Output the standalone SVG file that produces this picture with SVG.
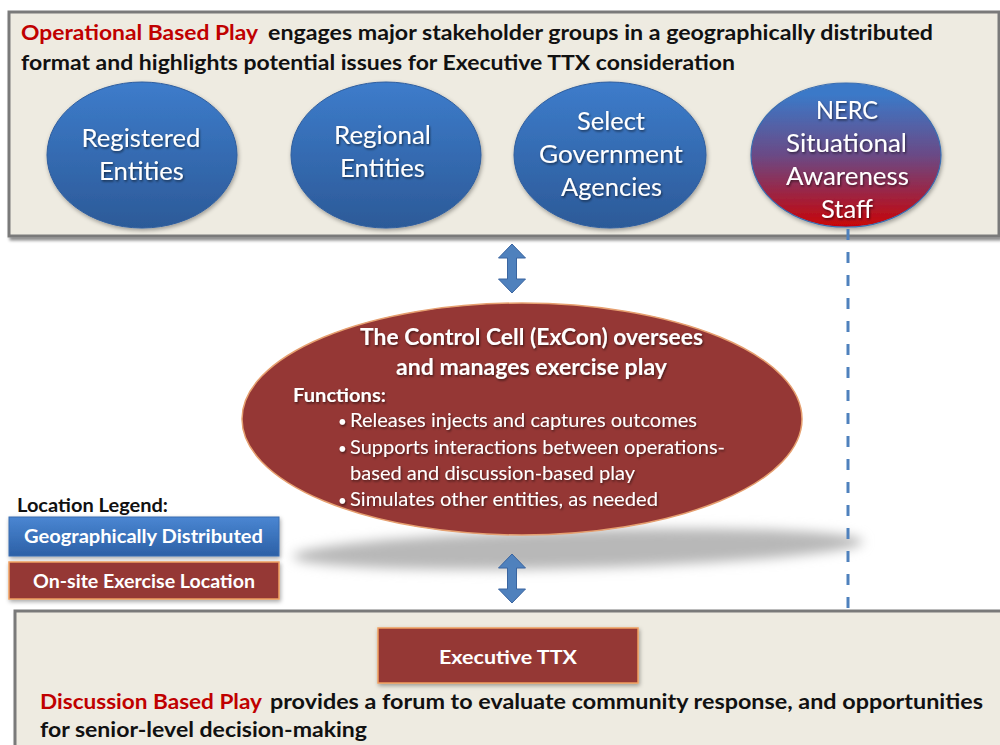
<svg xmlns="http://www.w3.org/2000/svg" width="1000" height="745" viewBox="0 0 1000 745">
<defs>
  <linearGradient id="gBlue" x1="0" y1="0" x2="0" y2="1">
    <stop offset="0" stop-color="#3D7CCB"/>
    <stop offset="1" stop-color="#2C5A98"/>
  </linearGradient>
  <linearGradient id="gNerc" x1="0" y1="0" x2="0" y2="1">
    <stop offset="0.08" stop-color="#3B79C8"/>
    <stop offset="0.5" stop-color="#6A4A86"/>
    <stop offset="1" stop-color="#C80408"/>
  </linearGradient>
  <linearGradient id="gLegBlue" x1="0" y1="0" x2="0" y2="1">
    <stop offset="0" stop-color="#4A86D2"/>
    <stop offset="1" stop-color="#2C60A6"/>
  </linearGradient>
  <filter id="boxShadow" x="-5%" y="-5%" width="110%" height="115%">
    <feDropShadow dx="2" dy="3" stdDeviation="1.5" flood-color="#000" flood-opacity="0.45"/>
  </filter>
  <filter id="softShadow" x="-10%" y="-10%" width="120%" height="130%">
    <feDropShadow dx="1" dy="2" stdDeviation="2" flood-color="#000" flood-opacity="0.35"/>
  </filter>
  <filter id="textShadow" x="-5%" y="-20%" width="110%" height="150%">
    <feDropShadow dx="1" dy="1.5" stdDeviation="0.8" flood-color="#000" flood-opacity="0.55"/>
  </filter>
  <filter id="blur" x="-20%" y="-100%" width="140%" height="300%">
    <feGaussianBlur stdDeviation="6"/>
  </filter>
  <style>
    .panel { fill: #EEEBE1; stroke: #7A7A7A; stroke-width: 3; }
    .hdr { font-family: "Lato", "Liberation Sans", sans-serif; font-weight: bold; font-size: 21px; fill: #111; }
    .red { fill: #C00000; }
    .ell { font-family: "Lato", "Liberation Sans", sans-serif; font-size: 25px; fill: #FFFFFF; text-anchor: middle; }
    .exc { font-family: "Lato", "Liberation Sans", sans-serif; fill: #FFFFFF; }
    .b { font-weight: bold; }
    .leg { font-family: "Lato", "Liberation Sans", sans-serif; font-weight: bold; font-size: 18px; }
    .wt { fill: #FFFFFF; }
    .arrow { fill: #4F81BD; stroke: #3A65A0; stroke-width: 1; }
    .dash { stroke: #4F81BD; stroke-width: 3; stroke-dasharray: 11 12; fill: none; }
  </style>
</defs>

<rect x="0" y="0" width="1000" height="745" fill="#FFFFFF"/>

<!-- Operational based play panel -->
<g id="operational-panel">
  <rect class="panel" x="9" y="12" width="990" height="224" filter="url(#boxShadow)"/>
  <text class="hdr red" x="21" y="40" textLength="237" lengthAdjust="spacingAndGlyphs">Operational Based Play</text>
  <text class="hdr" x="268" y="40" textLength="665" lengthAdjust="spacingAndGlyphs">engages major stakeholder groups in a geographically distributed</text>
  <text class="hdr" x="21" y="70" textLength="714" lengthAdjust="spacingAndGlyphs">format and highlights potential issues for Executive TTX consideration</text>
</g>

<!-- Discussion based play panel -->
<g id="discussion-panel">
  <rect class="panel" x="15" y="611" width="995" height="150" filter="url(#boxShadow)"/>
  <text class="hdr red" x="40" y="709" textLength="222" lengthAdjust="spacingAndGlyphs">Discussion Based Play</text>
  <text class="hdr" x="270" y="709" textLength="713" lengthAdjust="spacingAndGlyphs">provides a forum to evaluate community response, and opportunities</text>
  <text class="hdr" x="40" y="737" textLength="327" lengthAdjust="spacingAndGlyphs">for senior-level decision-making</text>
</g>

<!-- Stakeholder ellipses -->
<g id="registered-entities">
  <ellipse cx="142" cy="155" rx="95" ry="73" fill="url(#gBlue)" stroke="#2F5E9E" stroke-width="1" filter="url(#softShadow)"/>
  <g filter="url(#textShadow)">
    <text class="ell" x="141" y="147" textLength="119" lengthAdjust="spacingAndGlyphs">Registered</text>
    <text class="ell" x="141.5" y="180" textLength="85" lengthAdjust="spacingAndGlyphs">Entities</text>
  </g>
</g>

<g id="regional-entities">
  <ellipse cx="386" cy="155" rx="95" ry="73" fill="url(#gBlue)" stroke="#2F5E9E" stroke-width="1" filter="url(#softShadow)"/>
  <g filter="url(#textShadow)">
    <text class="ell" x="382.5" y="144" textLength="97" lengthAdjust="spacingAndGlyphs">Regional</text>
    <text class="ell" x="382.5" y="177" textLength="85" lengthAdjust="spacingAndGlyphs">Entities</text>
  </g>
</g>

<g id="select-government-agencies">
  <ellipse cx="610" cy="155" rx="96" ry="73" fill="url(#gBlue)" stroke="#2F5E9E" stroke-width="1" filter="url(#softShadow)"/>
  <g filter="url(#textShadow)">
    <text class="ell" x="611" y="130" textLength="68" lengthAdjust="spacingAndGlyphs">Select</text>
    <text class="ell" x="611" y="163" textLength="144" lengthAdjust="spacingAndGlyphs">Government</text>
    <text class="ell" x="611.5" y="196" textLength="101" lengthAdjust="spacingAndGlyphs">Agencies</text>
  </g>
</g>

<g id="nerc-situational-awareness-staff">
  <ellipse cx="846" cy="155" rx="95" ry="72" fill="url(#gNerc)" stroke="#3A6DB0" stroke-width="1.2" filter="url(#softShadow)"/>
  <g filter="url(#textShadow)">
    <text class="ell" x="847" y="119" textLength="62" lengthAdjust="spacingAndGlyphs">NERC</text>
    <text class="ell" x="846.5" y="152" textLength="121" lengthAdjust="spacingAndGlyphs">Situational</text>
    <text class="ell" x="847.5" y="185" textLength="123" lengthAdjust="spacingAndGlyphs">Awareness</text>
    <text class="ell" x="847" y="218" textLength="52" lengthAdjust="spacingAndGlyphs">Staff</text>
  </g>
</g>

<!-- Control cell -->
<g id="control-cell">
  <ellipse cx="578" cy="549" rx="285" ry="19" fill="#B8B8B8" transform="rotate(-1.5 578 549)" filter="url(#blur)"/>
  <ellipse cx="522" cy="419" rx="280" ry="116" fill="#953735" stroke="#E6A070" stroke-width="1.5"/>
  <g filter="url(#textShadow)">
    <text class="exc b" x="360" y="345" font-size="22" textLength="343" lengthAdjust="spacingAndGlyphs">The Control Cell (ExCon) oversees</text>
    <text class="exc b" x="396" y="375" font-size="22" textLength="271" lengthAdjust="spacingAndGlyphs">and manages exercise play</text>
    <text class="exc b" x="293" y="402" font-size="19" textLength="93" lengthAdjust="spacingAndGlyphs">Functions:</text>
    <text class="exc" x="338" y="427" font-size="15">•</text>
    <text class="exc" x="350" y="427" font-size="19" textLength="347" lengthAdjust="spacingAndGlyphs">Releases injects and captures outcomes</text>
    <text class="exc" x="338" y="454" font-size="15">•</text>
    <text class="exc" x="350" y="454" font-size="19" textLength="375" lengthAdjust="spacingAndGlyphs">Supports interactions between operations-</text>
    <text class="exc" x="350" y="480" font-size="19" textLength="285" lengthAdjust="spacingAndGlyphs">based and discussion-based play</text>
    <text class="exc" x="338" y="506" font-size="15">•</text>
    <text class="exc" x="350" y="506" font-size="19" textLength="308" lengthAdjust="spacingAndGlyphs">Simulates other entities, as needed</text>
  </g>
</g>

<!-- Legend -->
<g id="legend">
  <text class="leg" x="17" y="512" fill="#111" textLength="151" lengthAdjust="spacingAndGlyphs">Location Legend:</text>
</g>
<g id="legend-geographically-distributed">
  <rect x="9" y="517" width="270" height="39" fill="url(#gLegBlue)" stroke="#3B6DB0" stroke-width="1" filter="url(#softShadow)"/>
  <text class="leg wt" x="24" y="543" textLength="239" lengthAdjust="spacingAndGlyphs">Geographically Distributed</text>
</g>
<g id="legend-onsite-exercise-location">
  <rect x="9" y="562" width="270" height="37" fill="#953735" stroke="#F0A060" stroke-width="1.5" filter="url(#softShadow)"/>
  <text class="leg wt" x="33" y="588" textLength="222" lengthAdjust="spacingAndGlyphs">On-site Exercise Location</text>
</g>

<!-- Executive TTX -->
<g id="executive-ttx">
  <rect x="378" y="628" width="260" height="55" fill="#953735" stroke="#F0A060" stroke-width="1.5" filter="url(#softShadow)"/>
  <text class="leg wt" x="508" y="664" font-size="22" text-anchor="middle" textLength="138" lengthAdjust="spacingAndGlyphs">Executive TTX</text>
</g>

<!-- Connectors -->
<g id="connectors">
  <line class="dash" x1="848" y1="229" x2="848" y2="609"/>
  <polygon class="arrow" points="512,244 525.5,258 516.5,258 516.5,279 525.5,279 512,293 498.5,279 507.5,279 507.5,258 498.5,258"/>
  <polygon class="arrow" points="512,554 525.5,568 516.5,568 516.5,589 525.5,589 512,603 498.5,589 507.5,589 507.5,568 498.5,568"/>
</g>
</svg>
